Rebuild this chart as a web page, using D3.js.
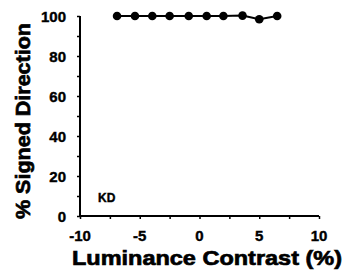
<!DOCTYPE html>
<html>
<head>
<meta charset="utf-8">
<script src="https://cdn.jsdelivr.net/npm/d3@7"></script>
<style>
  body { margin: 0; background: #fff; }
  text { font-family: "Liberation Sans", Arial, sans-serif; font-weight: bold; fill: #000; stroke: #000; stroke-width: 0.4px; }
  text.title { stroke-width: 0.7px; }
</style>
</head>
<body>
<svg id="viz" width="346" height="272"></svg>
<script>
// data
const contrast = [-6.9, -5.4, -3.95, -2.5, -0.9, 0.6, 2.0, 3.6, 5.0, 6.5];
const signedDir = [100, 100, 100, 100, 100, 100, 100, 100.2, 98.4, 100];
const xTicks = [-10, -5, 0, 5, 10];
const yTicks = [0, 20, 40, 60, 80, 100];
const subject = "KD";

var svg = d3.select("#viz");

const x = d3.scaleLinear().domain([-10, 10]).range([80, 319]);
const y = d3.scaleLinear().domain([0, 100]).range([216, 16]);

// axes
svg.append("g")
    .attr("transform", `translate(0,${y(0)})`)
    .call(d3.axisBottom(x).tickValues(d3.range(-10, 10.1, 2.5)).tickSize(3).tickFormat(""))
    .call(g => g.select(".domain").attr("stroke-width", 2).attr("d", `M${x(-10)},0H${x(10)}`));

svg.append("g")
    .attr("transform", `translate(${x(-10)},0)`)
    .call(d3.axisLeft(y).tickValues(d3.range(0, 101, 10)).tickSize(3).tickFormat(""))
    .call(g => g.select(".domain").attr("stroke-width", 2).attr("d", `M0,${y(0)}V${y(100)}`));

svg.selectAll(".tick line").attr("stroke-width", 1.5);

// tick labels
svg.append("g").selectAll("text")
    .data(xTicks)
    .enter().append("text")
    .attr("x", d => x(d))
    .attr("y", 241)
    .attr("text-anchor", "middle")
    .attr("font-size", 15)
    .text(d => d);

svg.append("g").selectAll("text")
    .data(yTicks)
    .enter().append("text")
    .attr("x", 66)
    .attr("y", d => y(d) + 6)
    .attr("text-anchor", "end")
    .attr("font-size", 15)
    .text(d => d);

// axis titles
svg.append("text")
    .attr("class", "title")
    .attr("x", 207)
    .attr("y", 265)
    .attr("text-anchor", "middle")
    .attr("font-size", 21)
    .attr("textLength", 270)
    .attr("lengthAdjust", "spacingAndGlyphs")
    .text("Luminance Contrast (%)");

svg.append("text")
    .attr("class", "title")
    .attr("transform", "translate(30,121) rotate(-90)")
    .attr("text-anchor", "middle")
    .attr("font-size", 21)
    .attr("textLength", 196)
    .attr("lengthAdjust", "spacingAndGlyphs")
    .text("% Signed Direction");

svg.append("text")
    .attr("x", 98)
    .attr("y", 202)
    .attr("font-size", 12)
    .text(subject);

// data line and points
const pts = contrast.map((c, i) => [c, signedDir[i]]);
svg.append("path")
    .datum(pts)
    .attr("fill", "none")
    .attr("stroke", "#000")
    .attr("stroke-width", 2)
    .attr("d", d3.line().x(d => x(d[0])).y(d => y(d[1])));

svg.append("g").selectAll("circle")
    .data(pts)
    .enter().append("circle")
    .attr("cx", d => x(d[0]))
    .attr("cy", d => y(d[1]))
    .attr("r", 4.3)
    .attr("fill", "#000");
</script>
</body>
</html>
